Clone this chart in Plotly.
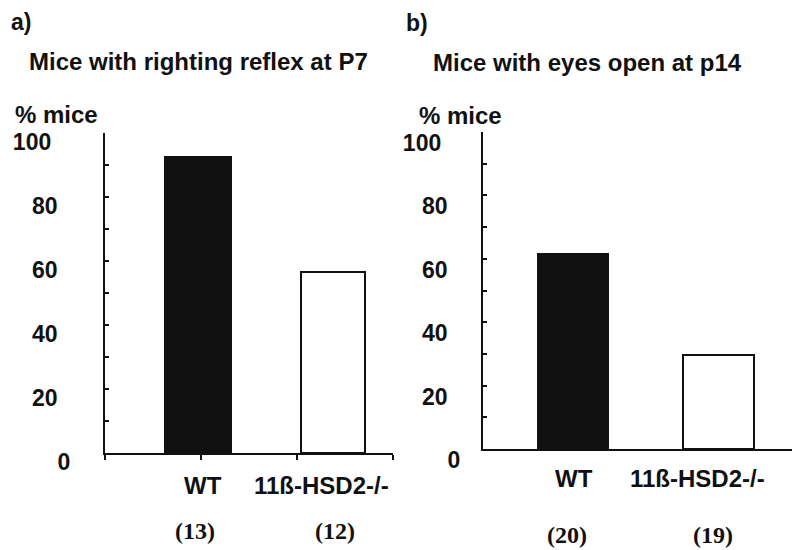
import plotly.graph_objects as go

# ---- data ----
categories = ["WT", "11ß-HSD2-/-"]
righting_p7 = [92.5, 56.5]          # % mice, panel a
eyes_open_p14 = [61.5, 29.5]        # % mice, panel b
n_p7 = ["(13)", "(12)"]
n_p14 = ["(20)", "(19)"]
y_tick_vals = [0, 20, 40, 60, 80, 100]
y_tick_text = ["0", "20", "40", "60", "80", "100"]
panel_letters = ["a)", "b)"]
panel_titles = ["Mice with righting reflex at P7", "Mice with eyes open at p14"]
y_title = "% mice"

# ---- layout helpers (positions, not data) ----
W, H = 800, 550
OFF = 8  # page body margin
def px(x): return (x - OFF) / W
def py(y): return 1 - (y - OFF) / H

bar_pos_a = [0.97, 2.375]
bar_pos_b = [0.874, 2.286]
bar_w_a = [0.68, 0.67]
bar_w_b = [0.68, 0.69]
lab_pos_a = [1.02, 2.25]
lab_pos_b = [0.883, 2.078]
n_pos_a = [0.94, 2.40]
n_pos_b = [0.816, 2.233]
# trailing padding (in non-breaking spaces) reproducing the uneven label alignment
pad_a = [0, 2, 2, 2, 2, 3]
pad_b = [0, 2, 2, 2, 2, 3]
def padded(texts, pads):
    return [t + "\u00a0" * n for t, n in zip(texts, pads)]

fills = ["#111111", "white"]
SANS = "Liberation Sans, Arial, sans-serif"
SERIF = "Liberation Serif, Times New Roman, serif"

fig = go.Figure()
fig.add_trace(go.Bar(x=bar_pos_a, y=righting_p7, width=bar_w_a,
                     marker=dict(color=fills, line=dict(color="#111111", width=2)),
                     xaxis="x", yaxis="y", showlegend=False, hoverinfo="skip"))
fig.add_trace(go.Bar(x=bar_pos_b, y=eyes_open_p14, width=bar_w_b,
                     marker=dict(color=fills, line=dict(color="#111111", width=2)),
                     xaxis="x2", yaxis="y2", showlegend=False, hoverinfo="skip"))

yax_common = dict(range=[0, 100], tickmode="array", tickvals=y_tick_vals,
                  ticks="inside", ticklen=4, tickwidth=1.5, tickcolor="#111111",
                  minor=dict(ticks="inside", dtick=10, ticklen=4, tickwidth=1.5, tickcolor="#111111"),
                  showline=True, linecolor="#111111", linewidth=2, showgrid=False, zeroline=False,
                  automargin=False,
                  tickfont=dict(family=SANS, size=23, color="#111111", weight="bold"))

fig.update_layout(
    width=W, height=H, margin=dict(l=0, r=0, t=0, b=0, pad=0, autoexpand=False),
    paper_bgcolor="white", plot_bgcolor="white", bargap=0, showlegend=False,
    xaxis=dict(domain=[px(105), px(393)], range=[0, 3], anchor="y", automargin=False,
               tickmode="array", tickvals=[0, 1, 2, 3], showticklabels=False,
               ticks="outside", ticklen=5, tickwidth=1.5, tickcolor="#111111",
               showline=True, linecolor="#111111", linewidth=2, showgrid=False, zeroline=False),
    yaxis=dict(domain=[py(453), py(133)], anchor="x", ticklabelstandoff=28,
               ticktext=padded(y_tick_text, pad_a), ticklabelshift=9, **yax_common),
    xaxis2=dict(domain=[px(483), px(792)], range=[0, 3], anchor="y2", automargin=False,
                showticklabels=False, ticks="",
                showline=True, linecolor="#111111", linewidth=2, showgrid=False, zeroline=False),
    yaxis2=dict(domain=[py(449), py(132)], anchor="x2", ticklabelstandoff=16,
                ticktext=padded(y_tick_text, pad_b), ticklabelshift=11, **yax_common),
)

ann = []
def add_text(text, x, y, size=24, family=SANS, xref="paper", xanchor="left"):
    ann.append(dict(text=text, x=x, y=y, xref=xref, yref="paper", xanchor=xanchor, yanchor="middle",
                    showarrow=False, font=dict(family=family, size=size, color="#111111", weight="bold")))

# panel letters, titles, y titles
add_text(panel_letters[0], px(9), py(22), size=23)
add_text(panel_letters[1], px(404), py(23), size=23)
add_text(panel_titles[0], px(27), py(62))
add_text(panel_titles[1], px(431), py(63))
add_text(y_title, px(13), py(114))
add_text(y_title, px(417), py(116))

# category and n labels
for i, c in enumerate(categories):
    add_text(c, lab_pos_a[i], py(485), xref="x", xanchor="center")
    add_text(c, lab_pos_b[i], py(478), xref="x2", xanchor="center")
    add_text(n_p7[i], n_pos_a[i], py(531), family=SERIF, xref="x", xanchor="center")
    add_text(n_p14[i], n_pos_b[i], py(535), family=SERIF, xref="x2", xanchor="center")

fig.update_layout(annotations=ann)
fig.write_html("out.html")
